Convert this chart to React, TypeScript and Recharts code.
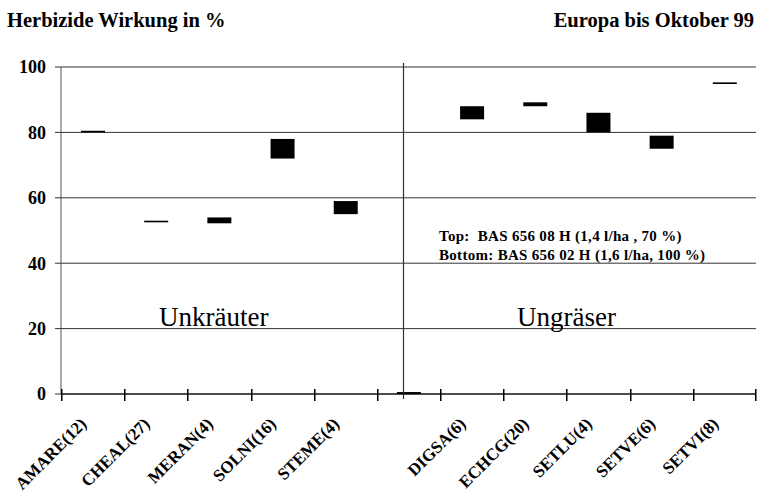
import React from "react"
import { BarChart, Bar, XAxis, YAxis, CartesianGrid, ReferenceLine } from "recharts"

// species codes (number of trials in brackets); "gap" separates weeds from grasses
const categories = [
  "AMARE(12)",
  "CHEAL(27)",
  "MERAN(4)",
  "SOLNI(16)",
  "STEME(4)",
  "gap",
  "DIGSA(6)",
  "ECHCG(20)",
  "SETLU(4)",
  "SETVE(6)",
  "SETVI(8)",
]
// bottom = BAS 656 02 H, top = BAS 656 08 H
const lowValues = [80, 52.5, 52.2, 72, 55, 0, 84, 88, 80, 75, 94.8]
const highValues = [80.5, 53, 54, 78, 59, 0.6, 88, 89.2, 86, 79, 95.3]
const yTicks = [0, 20, 40, 60, 80, 100]

const data = categories.map((name, i) => ({ name, range: [lowValues[i], highValues[i]] }))

const W = 757
const H = 493
const MARGIN = { top: 67, right: 1, bottom: 0, left: 0 }
const Y_AXIS_W = 61
const BAND = (W - MARGIN.left - MARGIN.right - Y_AXIS_W) / categories.length
const FONT = "Liberation Serif"

function XTick(props: any) {
  const { x, y, payload, index } = props
  const label = payload.value === "gap" ? "" : payload.value
  const last = index === categories.length - 1
  const left = Math.round(x - BAND / 2)
  const right = Math.round(x + BAND / 2) - 1
  const tx = x - 5
  const ty = y + 31
  return (
    <g>
      <rect x={left} y={y - 5} width={1.5} height={12} fill="#000" />
      {last && <rect x={right} y={y - 5} width={1.5} height={12} fill="#000" />}
      <text
        x={tx}
        y={ty}
        textAnchor="end"
        transform={`rotate(-45 ${tx} ${ty})`}
        fontFamily={FONT}
        fontWeight="bold"
        fontSize={17}
        fill="#000"
      >
        {label}
      </text>
    </g>
  )
}

function Divider(props: any) {
  const { x1, y1, y2 } = props
  return <line x1={x1 - 5} y1={Math.min(y1, y2) - 4} x2={x1 - 5} y2={Math.max(y1, y2) + 5} stroke="#333" strokeWidth={1.2} />
}

export default function App() {
  return (
    <div style={{ position: "absolute", left: 0, top: 0, width: W, height: H, background: "#fff" }}>
      <BarChart width={W} height={H} data={data} margin={MARGIN} barCategoryGap={0}>
        <CartesianGrid vertical={false} stroke="#333" strokeWidth={1} />
        <XAxis
          dataKey="name"
          height={H - 394}
          interval={0}
          tickSize={0}
          tickMargin={0}
          tickLine={false}
          axisLine={{ stroke: "#000" }}
          tick={<XTick />}
        />
        <YAxis
          width={Y_AXIS_W}
          domain={[0, 100]}
          ticks={yTicks}
          tickSize={6}
          tickMargin={9}
          axisLine={{ stroke: "#555" }}
          tickLine={{ stroke: "#333" }}
          tick={{ fontFamily: FONT, fontWeight: "bold", fontSize: 18, fill: "#000" }}
        />
        <ReferenceLine x="gap" stroke="#333" shape={<Divider />} />
        <Bar dataKey="range" fill="#000" barSize={24} isAnimationActive={false} />
      </BarChart>
      <svg width={W} height={H} style={{ position: "absolute", left: 0, top: 0, pointerEvents: "none" }}>
        <text x={7} y={27} fontFamily={FONT} fontWeight="bold" fontSize={20.5}>
          Herbizide Wirkung in %
        </text>
        <text x={754} y={27} textAnchor="end" fontFamily={FONT} fontWeight="bold" fontSize={20.5}>
          Europa bis Oktober 99
        </text>
        <text x={159} y={326} fontFamily={FONT} fontSize={27}>
          Unkräuter
        </text>
        <text x={517} y={326} fontFamily={FONT} fontSize={27}>
          Ungräser
        </text>
        <text x={439} y={241} fontFamily={FONT} fontWeight="bold" fontSize={15} letterSpacing={0.3} style={{ whiteSpace: "pre" }}>
          {"Top:  BAS 656 08 H (1,4 l/ha , 70 %)"}
        </text>
        <text x={439} y={260} fontFamily={FONT} fontWeight="bold" fontSize={15} letterSpacing={0.3} style={{ whiteSpace: "pre" }}>
          {"Bottom: BAS 656 02 H (1,6 l/ha, 100 %)"}
        </text>
      </svg>
    </div>
  )
}
